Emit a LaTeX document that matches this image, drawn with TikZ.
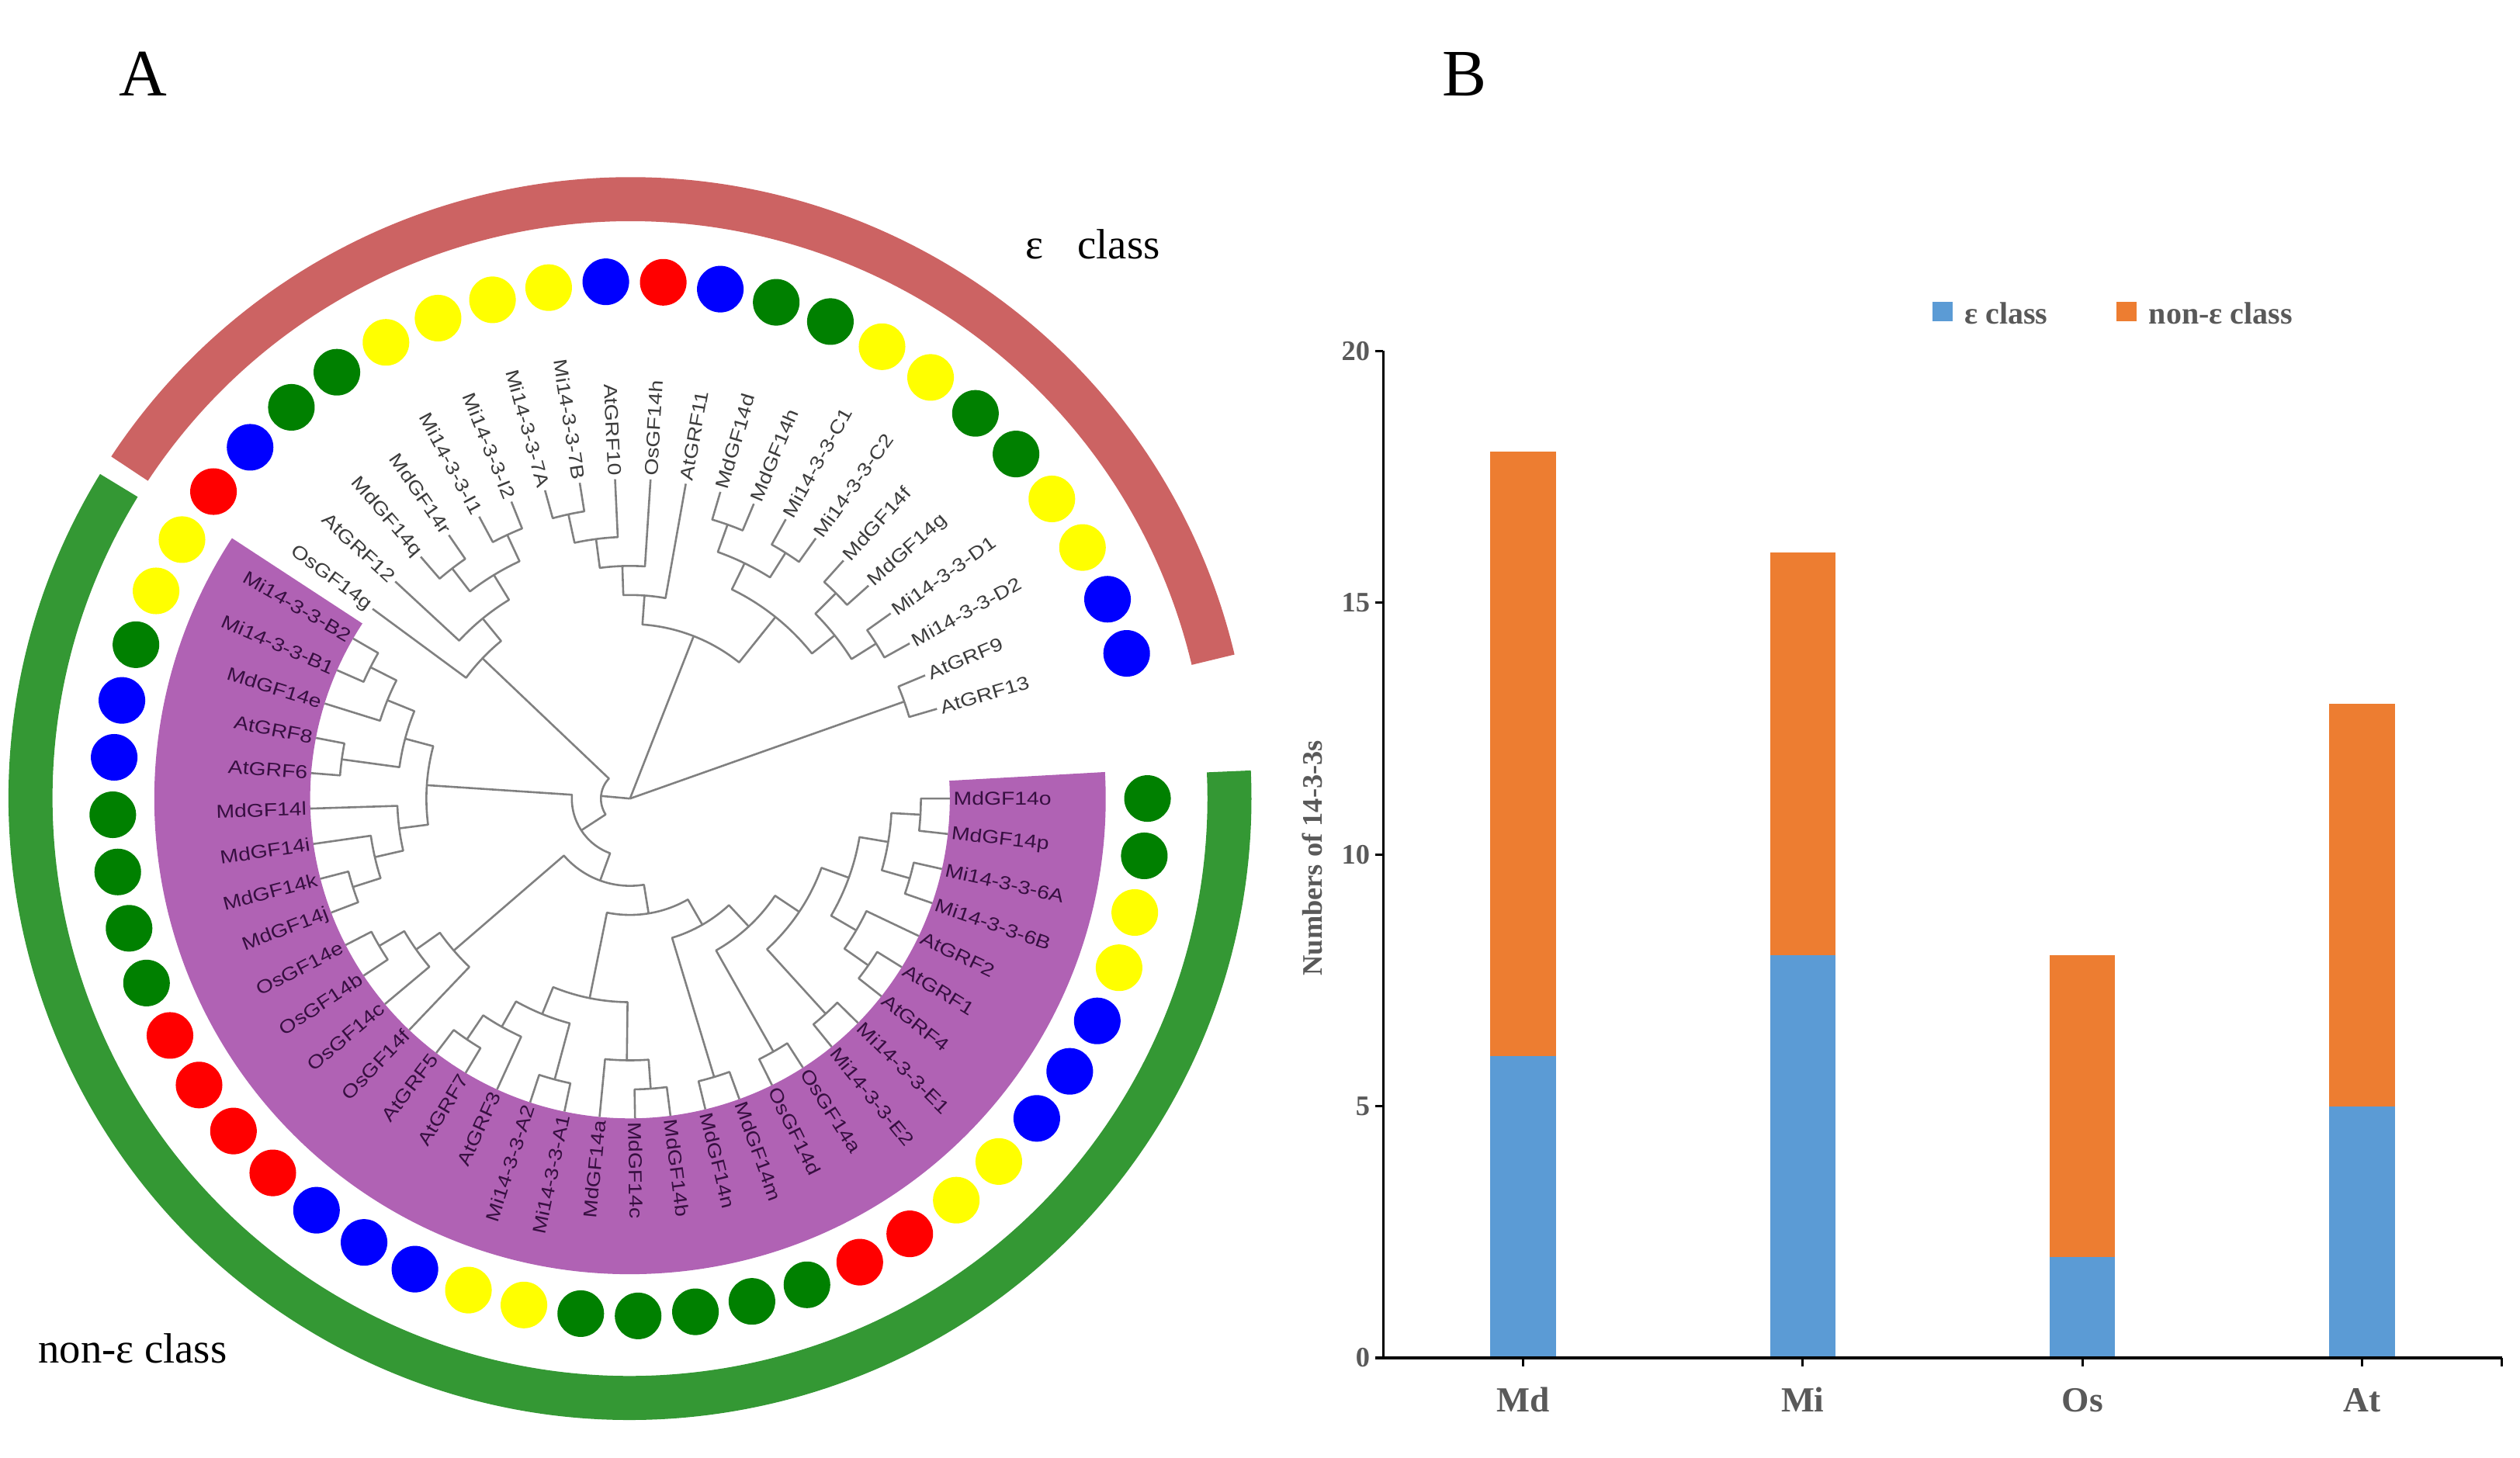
\documentclass[tikz,border=0pt]{standalone}
\usepackage{fontspec}
\setmainfont{Liberation Serif}
\newfontfamily\leaffont[FakeStretch=1.18]{Liberation Sans}
\definecolor{atblue}{RGB}{0,0,255}
\definecolor{miyellow}{RGB}{255,255,0}
\definecolor{mdgreen}{RGB}{0,128,0}
\definecolor{osred}{RGB}{255,0,0}
\definecolor{epsarc}{RGB}{204,99,99}
\definecolor{nonarc}{RGB}{52,152,52}
\definecolor{nonband}{RGB}{176,98,180}
\definecolor{branchgray}{RGB}{128,128,128}
\definecolor{epstext}{RGB}{60,60,60}
\definecolor{bandtext}{RGB}{55,15,65}
\definecolor{barblue}{RGB}{91,155,213}
\definecolor{barorange}{RGB}{237,125,49}
\definecolor{axisgray}{RGB}{89,89,89}

\def\thzero{16.3}
\def\thstep{6.365}
\def\rstep{18.1}
\def\htop{11}

% join two clades: arc at the parent radius, radial lines to both children
\newcommand\tjoin[3]{%
  \pgfmathsetmacro\ja{\csname na@#2\endcsname}%
  \pgfmathsetmacro\jb{\csname na@#3\endcsname}%
  \pgfmathsetmacro\jh{max(\csname nh@#2\endcsname,\csname nh@#3\endcsname)+1}%
  \pgfmathsetmacro\jr{\rstep*(\htop-\jh)}%
  \pgfmathsetmacro\jm{(\ja+\jb)/2}%
  \coordinate (#1) at (\jm:\jr);%
  \draw[branch] (#2) -- (\ja:\jr) arc[start angle=\ja, end angle=\jb, radius=\jr] -- (#3);%
  \expandafter\xdef\csname na@#1\endcsname{\jm}%
  \expandafter\xdef\csname nh@#1\endcsname{\jh}%
}

\begin{document}
\begin{tikzpicture}
[x=0.2mm, y=0.2mm, every node/.style={inner sep=0pt},
 branch/.style={draw=branchgray, line width=0.25mm, line join=round},
 leaf/.style={font=\leaffont\fontsize{6.6}{7}\selectfont},
 dot/.style={circle, minimum size=5.8mm, draw=none},
 axisline/.style={line width=0.3mm, draw=black},
 chartfont/.style={text=axisgray, font=\bfseries\fontsize{#1}{#1}\selectfont}]
\useasboundingbox (0,0) rectangle (1568,907);

\node (A) [anchor=base west, font=\fontsize{23.5}{24}\selectfont] at (73.7,847.4) {A};
\node (B) [anchor=base west, font=\fontsize{23.5}{24}\selectfont] at (897,847.4) {B};

\begin{scope}[shift={(392,410)}]
\fill[nonband] (146.8:199) arc[start angle=146.8, end angle=363.2, radius=199] -- (363.2:296) arc[start angle=363.2, end angle=146.8, radius=296] -- cycle;
\draw[epsarc, line width=5.48mm] (13.4:373) arc[start angle=13.4, end angle=146.6, radius=373];
\draw[nonarc, line width=5.48mm] (148.5:373) arc[start angle=148.5, end angle=362.6, radius=373];

\foreach \k/\lab/\sp in {0/AtGRF13/atblue, 1/AtGRF9/atblue, 2/Mi14-3-3-D2/miyellow, 3/Mi14-3-3-D1/miyellow,
  4/MdGF14g/mdgreen, 5/MdGF14f/mdgreen, 6/Mi14-3-3-C2/miyellow, 7/Mi14-3-3-C1/miyellow,
  8/MdGF14h/mdgreen, 9/MdGF14d/mdgreen, 10/AtGRF11/atblue, 11/OsGF14h/osred, 12/AtGRF10/atblue,
  13/Mi14-3-3-7B/miyellow, 14/Mi14-3-3-7A/miyellow, 15/Mi14-3-3-I2/miyellow, 16/Mi14-3-3-I1/miyellow,
  17/MdGF14r/mdgreen, 18/MdGF14q/mdgreen, 19/AtGRF12/atblue, 20/OsGF14g/osred,
  21/Mi14-3-3-B2/miyellow, 22/Mi14-3-3-B1/miyellow, 23/MdGF14e/mdgreen, 24/AtGRF8/atblue, 25/AtGRF6/atblue,
  26/MdGF14l/mdgreen, 27/MdGF14i/mdgreen, 28/MdGF14k/mdgreen, 29/MdGF14j/mdgreen,
  30/OsGF14e/osred, 31/OsGF14b/osred, 32/OsGF14c/osred, 33/OsGF14f/osred,
  34/AtGRF5/atblue, 35/AtGRF7/atblue, 36/AtGRF3/atblue, 37/Mi14-3-3-A2/miyellow, 38/Mi14-3-3-A1/miyellow,
  39/MdGF14a/mdgreen, 40/MdGF14c/mdgreen, 41/MdGF14b/mdgreen, 42/MdGF14n/mdgreen, 43/MdGF14m/mdgreen,
  44/OsGF14d/osred, 45/OsGF14a/osred, 46/Mi14-3-3-E2/miyellow, 47/Mi14-3-3-E1/miyellow,
  48/AtGRF4/atblue, 49/AtGRF1/atblue, 50/AtGRF2/atblue, 51/Mi14-3-3-6B/miyellow, 52/Mi14-3-3-6A/miyellow,
  53/MdGF14p/mdgreen, 54/MdGF14o/mdgreen}{
  \pgfmathsetmacro\tang{\thzero+\thstep*\k}
  \pgfmathtruncatemacro\flip{(\tang>90)*(\tang<270)}
  \ifnum\k>20 \def\tcol{bandtext}\else\def\tcol{epstext}\fi
  \coordinate (t\k) at (\tang:199);
  \expandafter\xdef\csname na@t\k\endcsname{\tang}
  \expandafter\xdef\csname nh@t\k\endcsname{0}
  \ifnum\flip=1
    \node (n\k) [leaf, text=\tcol, anchor=east, rotate=\tang+180] at (\tang:201) {\lab};
  \else
    \node (n\k) [leaf, text=\tcol, anchor=west, rotate=\tang] at (\tang:201) {\lab};
  \fi
  \node (d\k) [dot, fill=\sp] at (\tang:322) {};
}

\tjoin{A913}{t0}{t1}
\tjoin{R4a}{t2}{t3}
\tjoin{R4b}{t4}{t5}
\tjoin{R3}{R4a}{R4b}
\tjoin{R4c}{t6}{t7}
\tjoin{R4d}{t8}{t9}
\tjoin{R2}{R4c}{R4d}
\tjoin{R1}{R3}{R2}
\tjoin{M4}{t13}{t14}
\tjoin{M3}{t12}{M4}
\tjoin{M2}{t11}{M3}
\tjoin{M1}{t10}{M2}
\tjoin{X1}{R1}{M1}
\tjoin{G4a}{t15}{t16}
\tjoin{G4b}{t17}{t18}
\tjoin{G3}{G4a}{G4b}
\tjoin{G2}{G3}{t19}
\tjoin{G1}{G2}{t20}
\tjoin{L6}{t21}{t22}
\tjoin{L3}{L6}{t23}
\tjoin{L7}{t24}{t25}
\tjoin{L2}{L3}{L7}
\tjoin{L8}{t28}{t29}
\tjoin{L5}{t27}{L8}
\tjoin{L4}{t26}{L5}
\tjoin{L1}{L2}{L4}
\tjoin{O3}{t30}{t31}
\tjoin{O2}{O3}{t32}
\tjoin{O1}{O2}{t33}
\tjoin{P5}{t34}{t35}
\tjoin{P3}{P5}{t36}
\tjoin{P6}{t37}{t38}
\tjoin{P2}{P3}{P6}
\tjoin{Q2}{t40}{t41}
\tjoin{Q1}{t39}{Q2}
\tjoin{P1}{P2}{Q1}
\tjoin{K1}{t42}{t43}
\tjoin{K2}{t44}{t45}
\tjoin{K3}{t46}{t47}
\tjoin{K4}{t48}{t49}
\tjoin{N9}{K4}{t50}
\tjoin{K5}{t51}{t52}
\tjoin{K6}{t53}{t54}
\tjoin{N11}{K5}{K6}
\tjoin{N8}{N9}{N11}
\tjoin{N7}{K3}{N8}
\tjoin{N6}{K2}{N7}
\tjoin{N5}{K1}{N6}
\tjoin{N4}{P1}{N5}
\tjoin{N3}{O1}{N4}
\tjoin{N2}{L1}{N3}
\tjoin{N1}{G1}{N2}
\coordinate (root) at (0,0);
\draw[branch] (root) -- (N1);
\draw[branch] (root) -- (X1);
\draw[branch] (root) -- (A913);
\end{scope}

\node (epsname) [anchor=base west, font=\fontsize{15}{16}\selectfont] at (638,746) {ε\hspace{0.8em}class};
\node (nonname) [anchor=base west, font=\fontsize{15}{16}\selectfont] at (23.6,58.7) {non-ε class};

% panel B
\begin{scope}[shift={(860.7,61.9)}, y=6.266mm]
\foreach \cx/\cat/\eps/\non in {87/Md/6/12, 261/Mi/8/8, 435/Os/2/6, 609/At/5/8}{
  \fill[barblue] (\cx-20.4,0) rectangle (\cx+20.4,\eps);
  \fill[barorange] (\cx-20.4,\eps) rectangle (\cx+20.4,\eps+\non);
  \draw[axisline] (\cx,0) -- (\cx,-0.17);
  \node (c\cat) [chartfont=12.5, anchor=base] at (\cx,-1.07) {\cat};
}
\draw[axisline] (696,0) -- (696,-0.17);
\draw[axisline] (0,20) -- (0,0) -- (696,0);
\foreach \v in {0,5,10,15,20}{
  \draw[axisline] (0,\v) -- (-5,\v);
  \node (y\v) [chartfont=10, anchor=east] at (-8,\v) {\v};
}
\end{scope}
\node (ytitle) [chartfont=10, rotate=90] at (816.5,373) {Numbers of 14-3-3s};
\node (keyeps) [fill=barblue, minimum size=2.5mm] at (1208.6,713.1) {};
\node (keyepstext) [chartfont=11, anchor=base west] at (1222,705.6) {ε class};
\node (keynon) [fill=barorange, minimum size=2.5mm] at (1323.2,713.1) {};
\node (keynontext) [chartfont=11, anchor=base west] at (1336.7,705.6) {non-ε class};
\end{tikzpicture}
\end{document}
